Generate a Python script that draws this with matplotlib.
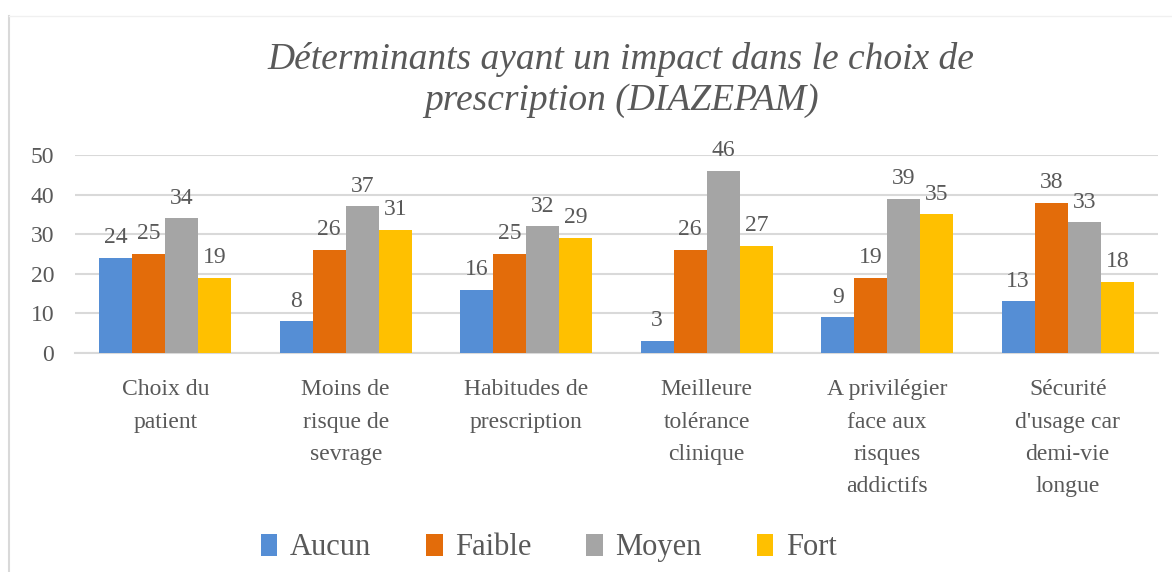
import numpy as np
import matplotlib
matplotlib.use("Agg")
import matplotlib.pyplot as plt
from matplotlib.lines import Line2D
from matplotlib.patches import Patch

plt.rcParams['font.family'] = ['Liberation Serif', 'DejaVu Serif']

categories = ["Choix du\npatient", "Moins de\nrisque de\nsevrage",
              "Habitudes de\nprescription", "Meilleure\ntolérance\nclinique",
              "A privilégier\nface aux\nrisques\naddictifs",
              "Sécurité\nd'usage car\ndemi-vie\nlongue"]
series = ["Aucun", "Faible", "Moyen", "Fort"]
aucun = [24, 8, 16, 3, 9, 13]
faible = [25, 26, 25, 26, 19, 38]
moyen = [34, 37, 32, 46, 39, 33]
fort = [19, 31, 29, 27, 35, 18]
colors = ["#558ED5", "#E36C0A", "#A5A5A5", "#FFC000"]
text_col = "#595959"

fig = plt.figure(figsize=(11.72, 5.72), dpi=100)
ax = fig.add_axes([0.064, 0.383, 0.924, 0.346])

x = np.arange(len(categories))
width = 0.183
for i, vals in enumerate([aucun, faible, moyen, fort]):
    pos = x + (i - 1.5) * width
    bars = ax.bar(pos, vals, width, color=colors[i], zorder=3)
    for b, v in zip(bars, vals):
        ax.annotate(str(v), (b.get_x() + b.get_width() / 2, v),
                    xytext=(0, 7), textcoords="offset points",
                    ha="center", va="bottom", fontsize=17, color=text_col)

ax.set_xlim(-0.5, len(categories) - 0.5)
ax.set_ylim(0, 50)
ax.set_yticks(range(0, 51, 10))
ax.grid(axis="y", color="#D9D9D9", linewidth=1.5, zorder=0)
for s in ["top", "right", "left"]:
    ax.spines[s].set_visible(False)
ax.spines["bottom"].set_color("#D9D9D9")
ax.spines["bottom"].set_linewidth(1.5)
ax.tick_params(axis="both", length=0, labelsize=17, colors=text_col)
ax.tick_params(axis="y", pad=15)
ax.tick_params(axis="x", pad=19)
ax.set_xticks(x)
ax.set_xticklabels(categories, linespacing=1.7)

fig.text(0.53, 0.86, "Déterminants ayant un impact dans le choix de\nprescription (DIAZEPAM)",
         ha="center", va="center", fontsize=27, style="italic", color=text_col,
         linespacing=1.25)

handles = [Patch(facecolor=c) for c in colors]
fig.legend(handles, series, loc="center", bbox_to_anchor=(0.468, 0.042), ncol=4,
           frameon=False, fontsize=22, handlelength=0.55, handleheight=0.75,
           handletextpad=0.4, columnspacing=1.8, labelcolor=text_col)

# frame lines of the chart area
fig.add_artist(Line2D([0.008, 0.008], [0, 0.972], color="#D9D9D9", linewidth=1.5))
fig.add_artist(Line2D([0.008, 1.0], [0.972, 0.972], color="#F0F0F0", linewidth=1))

fig.savefig("out.png", dpi=100)
